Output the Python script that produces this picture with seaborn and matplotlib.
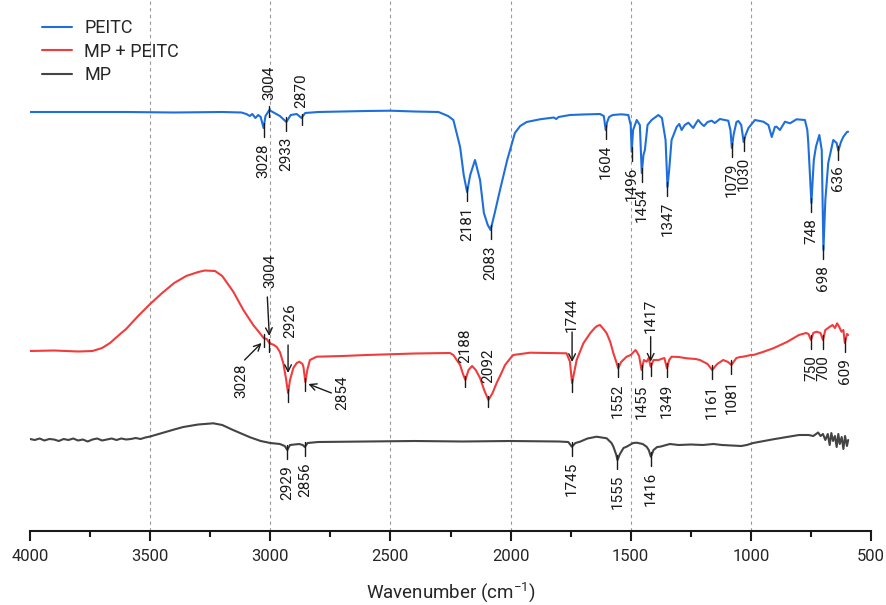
import numpy as np
import pandas as pd
import matplotlib
matplotlib.use('Agg')
import matplotlib.pyplot as plt
from matplotlib.ticker import MultipleLocator
import seaborn as sns

# FTIR spectra (transmittance, a.u., already offset for stacking)
peitc_wn = [4000, 3800, 3600, 3400, 3200, 3120, 3100, 3085, 3075, 3062, 3050, 3040, 3028, 3020, 3004,
            2990, 2960, 2933, 2915, 2890, 2870, 2855, 2800, 2600, 2500, 2400, 2300, 2260, 2238, 2210,
            2195, 2181, 2168, 2148, 2127, 2111, 2095, 2083, 2065, 2044, 2014, 1982, 1960, 1933, 1878,
            1820, 1810, 1800, 1753, 1700, 1628, 1612, 1604, 1598, 1590, 1575, 1540, 1510, 1500, 1496,
            1490, 1475, 1462, 1454, 1447, 1441, 1430, 1413, 1385, 1370, 1355, 1347, 1340, 1330, 1309,
            1298, 1288, 1275, 1260, 1240, 1225, 1219, 1205, 1195, 1180, 1163, 1150, 1129, 1094, 1085,
            1079, 1072, 1060, 1052, 1040, 1030, 1022, 1010, 983, 948, 927, 913, 900, 893, 879,
            858, 837, 810, 775, 765, 761, 748, 738, 729, 715, 705, 698, 690, 678, 657,
            643, 636, 625, 615, 600, 595]
peitc_t = [488, 488, 488, 487.5, 488, 487.5, 486, 484, 486, 482, 485, 483, 472, 484, 490,
           488, 484, 478, 485, 486, 482, 487, 488, 489, 489.3, 488.5, 488, 484, 480, 453,
           425, 408, 425, 440, 420, 387, 375, 370, 388, 410, 440, 467, 474, 478, 480.7,
           482.5, 481, 483, 485, 485.5, 486, 484, 470, 478, 483, 485, 485.7, 485, 475, 448.3,
           470, 480, 475, 427, 445, 450, 475, 480, 485, 482, 460, 413, 430, 460, 473,
           476, 470, 475, 477.3, 472, 478, 480, 476, 474, 478, 479.3, 477, 481, 479.3, 470,
           452, 465, 478, 479, 475, 458, 465, 472, 480, 478.3, 475, 463, 473, 473.3, 470,
           478.3, 476.7, 480.7, 480, 470, 457, 397, 440, 453.3, 465, 450, 350, 400, 437, 460,
           457, 449.3, 458, 463.3, 468, 468.3]

mix_wn = [4000, 3900, 3800, 3740, 3700, 3667, 3620, 3600, 3550, 3500, 3450, 3400, 3350, 3300, 3272,
          3230, 3200, 3188, 3154, 3112, 3071, 3043, 3028, 3015, 3004, 2985, 2973, 2960, 2946, 2935,
          2926, 2918, 2904, 2890, 2879, 2866, 2862, 2854, 2846, 2835, 2807, 2700, 2599, 2400, 2252,
          2238, 2210, 2198, 2188, 2175, 2160, 2145, 2127, 2110, 2092, 2075, 2058, 2040, 2023, 2000,
          1989, 1919, 1850, 1767, 1753, 1744, 1735, 1725, 1697, 1669, 1650, 1640, 1628, 1610, 1600,
          1585, 1572, 1560, 1552, 1540, 1517, 1500, 1480, 1475, 1465, 1455, 1445, 1434, 1425, 1417,
          1405, 1385, 1360, 1349, 1340, 1330, 1300, 1267, 1230, 1212, 1180, 1161, 1140, 1115, 1095,
          1081, 1060, 1045, 1032, 1000, 990, 950, 907, 850, 800, 770, 760, 750, 740, 727,
          710, 700, 690, 671, 660, 650, 641, 632, 623, 615, 609, 600, 595]
mix_t = [249, 249.5, 248.5, 249, 252, 257, 267, 271, 284, 296, 307, 317, 324, 328, 329.5,
         329, 324, 320, 308.3, 290, 275, 266.7, 262, 261, 257, 255, 253, 248, 237, 222,
         207, 220, 232, 237, 238.3, 236, 233, 218, 230, 240, 243.3, 244, 245, 246.5, 247,
         245, 235, 226, 220, 230, 234, 230, 222, 210, 200, 207, 217, 226, 235, 242,
         245, 247.3, 247, 246.7, 238.3, 217, 228, 240, 256.7, 266.7, 272, 274, 275, 270, 266.7,
         258, 246.7, 238, 231.7, 238, 243.3, 245, 250, 248.3, 244, 230, 240, 238.3, 242, 233.3,
         240, 240, 242, 231.7, 240, 243.3, 243, 241.7, 241, 240, 236, 230, 236, 240, 238,
         235, 242, 243, 243.3, 245, 245, 248, 251.7, 258, 265, 267, 266, 260, 267, 268.3,
         267, 260, 270, 273.3, 275, 272, 276.7, 273, 268.3, 270, 257, 266, 265]

mp_wn = [4000, 3980, 3960, 3940, 3920, 3900, 3880, 3860, 3840, 3820, 3800, 3780, 3760, 3740, 3720,
         3700, 3680, 3660, 3640, 3620, 3600, 3580, 3560, 3540, 3520, 3500, 3450, 3400, 3362, 3300,
         3237, 3200, 3155, 3084, 3040, 3000, 2960, 2940, 2929, 2918, 2880, 2865, 2856, 2845, 2800,
         2600, 2400, 2200, 2000, 1800, 1760, 1745, 1730, 1711, 1680, 1642, 1600, 1580, 1572, 1560,
         1555, 1545, 1530, 1517, 1490, 1475, 1450, 1434, 1425, 1416, 1405, 1390, 1378, 1337, 1300,
         1250, 1200, 1156, 1120, 1080, 1040, 1017, 990, 907, 850, 800, 760, 740, 720, 710,
         700, 690, 680, 672, 665, 658, 650, 643, 636, 630, 622, 615, 608, 600, 595]
mp_t = [161, 160, 161.5, 159.5, 161, 160.5, 159, 161, 160, 161.5, 159.5, 160.5, 158.5, 160.5, 161.5,
        159.5, 160.5, 161.5, 160, 161.5, 160.5, 161, 162, 161, 162.5, 163.5, 167, 170.5, 173, 175.5,
        176.7, 175, 170, 162.7, 159, 157, 156, 154, 150, 155, 156, 155, 153, 157, 158,
        158.5, 159, 158.5, 159, 158.5, 158, 153.3, 157, 158.3, 161.5, 163.3, 161.7, 157, 153.3, 145,
        140, 146, 152, 153.3, 157, 157.3, 156, 153.3, 150, 143.3, 150, 153, 153.3, 156, 155,
        155.5, 155, 156, 155, 154.5, 154, 155, 157, 160.7, 163, 165, 165, 164, 167.5, 164,
        166, 160, 166, 155, 167, 159, 164, 153, 166, 156, 163, 151, 164, 154, 160]

samples = ['PEITC', 'MP + PEITC', 'MP']
colors = ['#1f6fdb', '#f03c3c', '#444444']

# peak labels
below_peaks = {
    'PEITC': [3028, 2933, 2181, 2083, 1604, 1496, 1454, 1347, 1079, 1030, 748, 698, 636],
    'MP + PEITC': [1552, 1455, 1349, 1161, 1081, 750, 700, 609],
    'MP': [2929, 2856, 1745, 1555, 1416],
}
above_peaks = {
    'PEITC': [3004, 2870],
    'MP + PEITC': [2188, 2092],
}
# red labels with arrows: text centre, arrow start, arrow end (pixel offsets from the peak)
arrow_peaks = {
    3028: ((-22, -43), (-19, -22), (-2, -5)),
    3004: ((1, 72), (-2, 46), (0, 7)),
    2926: ((2, 72), (0, 48), (0, 20)),
    2854: ((37, -11), (26, -11), (3, -2)),
    1744: ((0, 68), (0, 51), (0, 21)),
    1417: ((0, 51), (0, 30), (0, 5)),
}

df = pd.concat([
    pd.DataFrame({'wn': peitc_wn, 'T': peitc_t, 'sample': 'PEITC'}),
    pd.DataFrame({'wn': mix_wn, 'T': mix_t, 'sample': 'MP + PEITC'}),
    pd.DataFrame({'wn': mp_wn, 'T': mp_t, 'sample': 'MP'}),
])

sns.set_style('ticks')
plt.rcParams['font.family'] = ['Roboto', 'DejaVu Sans']
plt.rcParams['mathtext.fontset'] = 'custom'
plt.rcParams['mathtext.rm'] = 'Roboto'
plt.rcParams['mathtext.it'] = 'Roboto'

fig = plt.figure(figsize=(8.86, 6.05), dpi=100)
ax = fig.add_axes([30 / 886, 74 / 605, 841 / 886, 531 / 605])

sns.lineplot(data=df, x='wn', y='T', hue='sample', hue_order=samples, palette=colors,
             estimator=None, linewidth=1.5, ax=ax)

ax.set_xlim(4000, 500)
ax.set_ylim(69, 600)

for g in [3500, 3000, 2500, 2000, 1500, 1000]:
    ax.axvline(g, color='#9a9a9a', ls=(0, (3, 3)), lw=0.8, zorder=0)

# pixel -> data helpers
fw, fh = fig.get_size_inches() * fig.dpi
pos = ax.get_position()
xpp = (ax.get_xlim()[1] - ax.get_xlim()[0]) / (pos.width * fw)
ypp = (ax.get_ylim()[1] - ax.get_ylim()[0]) / (pos.height * fh)


def at(wn, y, dx, dy):
    return wn + dx * xpp, y + dy * ypp


def curve(sample):
    d = df[df['sample'] == sample].sort_values('wn')
    return d['wn'].values, d['T'].values


txt_kw = dict(fontsize=11, color='#1a1a1a', rotation=90)

for s, peaks in below_peaks.items():
    xs, ys = curve(s)
    for p in peaks:
        y = np.interp(p, xs, ys)
        (x0, y0), (x1, y1) = at(p, y, 0, 5), at(p, y, 0, -9)
        ax.plot([x0, x1], [y0, y1], color='#1a1a1a', lw=1)
        ax.text(*at(p, y, 0, -15), str(p), ha='center', va='top', **txt_kw)

for s, peaks in above_peaks.items():
    xs, ys = curve(s)
    gap = 10 if s == 'PEITC' else 17
    for p in peaks:
        y = np.interp(p, xs, ys)
        (x0, y0), (x1, y1) = at(p, y, 0, 4), at(p, y, 0, -7)
        ax.plot([x0, x1], [y0, y1], color='#1a1a1a', lw=1)
        ax.text(*at(p, y, 0, gap), str(p), ha='center', va='bottom', **txt_kw)

xs, ys = curve('MP + PEITC')
for p, (tpos, a0, a1) in arrow_peaks.items():
    y = np.interp(p, xs, ys)
    (x0, y0), (x1, y1) = at(p, y, 0, 4), at(p, y, 0, -9)
    ax.plot([x0, x1], [y0, y1], color='#1a1a1a', lw=1)
    ax.text(*at(p, y, *tpos), str(p), ha='center', va='center', **txt_kw)
    ax.annotate('', xy=at(p, y, *a1), xytext=at(p, y, *a0),
                arrowprops=dict(arrowstyle='->', color='#1a1a1a', lw=1,
                                shrinkA=0, shrinkB=0, mutation_scale=12))

sns.move_legend(ax, 'upper left', bbox_to_anchor=(0.014, 0.964), frameon=False, title=None,
                fontsize=13, handlelength=1.7, handletextpad=0.65, labelspacing=0.3,
                borderpad=0, borderaxespad=0)

sns.despine(ax=ax, left=True)
ax.set_yticks([])
ax.set_ylabel('')
ax.xaxis.set_major_locator(MultipleLocator(500))
ax.xaxis.set_minor_locator(MultipleLocator(250))
ax.tick_params(axis='x', which='major', length=7, width=1.5, labelsize=12, pad=6, color='#1a1a1a')
ax.tick_params(axis='x', which='minor', length=4, width=1.5, color='#1a1a1a')
ax.spines['bottom'].set_linewidth(1.5)
ax.spines['bottom'].set_color('#1a1a1a')
ax.set_xlabel('Wavenumber (cm$^{-1}$)', fontsize=13.5, labelpad=12)

fig.savefig('out.png', dpi=100)
